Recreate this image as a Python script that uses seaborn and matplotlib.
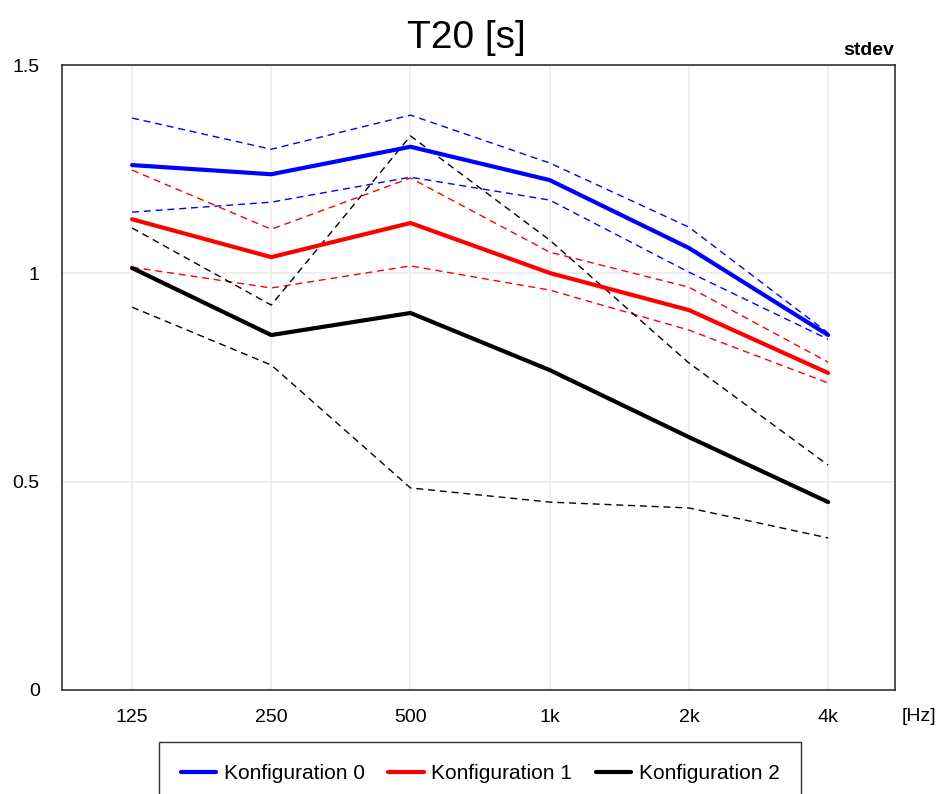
import numpy as np
import pandas as pd
import seaborn as sns
import matplotlib
matplotlib.use('Agg')
import matplotlib.pyplot as plt
from matplotlib.lines import Line2D

# Frequenzbaender
bands = ['125', '250', '500', '1k', '2k', '4k']

# Mittelwerte T20 [s]
k0_mean = [1.260, 1.238, 1.304, 1.224, 1.061, 0.852]
k1_mean = [1.130, 1.039, 1.121, 1.001, 0.912, 0.761]
k2_mean = [1.013, 0.852, 0.905, 0.768, 0.607, 0.451]

# stdev-Grenzen (oben / unten)
k0_upper = [1.373, 1.298, 1.380, 1.265, 1.111, 0.857]
k0_lower = [1.147, 1.171, 1.231, 1.176, 1.003, 0.842]
k1_upper = [1.248, 1.106, 1.229, 1.051, 0.967, 0.787]
k1_lower = [1.015, 0.965, 1.018, 0.960, 0.864, 0.737]
k2_upper = [1.109, 0.924, 1.330, 1.080, 0.785, 0.540]
k2_lower = [0.919, 0.780, 0.485, 0.451, 0.437, 0.365]

labels = ['Konfiguration 0', 'Konfiguration 1', 'Konfiguration 2']
colors = ['#0000ff', '#ff0000', '#000000']

sns.set_style("white")
plt.rcParams['font.family'] = ['Liberation Sans', 'DejaVu Sans']
plt.rcParams['text.color'] = 'black'
plt.rcParams['xtick.labelcolor'] = 'black'
plt.rcParams['ytick.labelcolor'] = 'black'

fig = plt.figure(figsize=(9.47, 7.94), dpi=100)
ax = fig.add_axes([0.0655, 0.131, 0.8795, 0.787])

pos = np.arange(len(bands))
series = [(k0_mean, k0_upper, k0_lower),
          (k1_mean, k1_upper, k1_lower),
          (k2_mean, k2_upper, k2_lower)]

# erst gestrichelte stdev-Linien, dann Mittelwerte darueber
for (m, up, lo), c in zip(series, colors):
    for b in (up, lo):
        sns.lineplot(x=pos, y=b, ax=ax, color=c, linewidth=1.0,
                     linestyle=(0, (5, 3.5)), legend=False)
for (m, up, lo), c in zip(series, colors):
    sns.lineplot(x=pos, y=m, ax=ax, color=c, linewidth=3.0, legend=False)

ax.set_xlim(-0.503, 5.48)
ax.set_ylim(0, 1.5)
ax.set_xticks(pos)
ax.set_xticklabels(bands)
ax.set_yticks([0, 0.5, 1, 1.5])
ax.set_yticklabels(['0', '0.5', '1', '1.5'])
ax.grid(True, color='#ebebeb', linewidth=1.2)
ax.set_axisbelow(True)
for s in ax.spines.values():
    s.set_color('#333333')
    s.set_linewidth(1.2)
ax.tick_params(axis='x', length=6, width=1.2, color='#333333', pad=8, labelsize=14)
ax.tick_params(axis='y', length=0, pad=16, labelsize=14)
ax.set_xlabel('')
ax.set_ylabel('')

fig.text(0.492, 0.952, 'T20 [s]', ha='center', va='center', fontsize=28)
fig.text(0.944, 0.936, 'stdev', ha='right', va='center', fontsize=14, fontweight='bold')
fig.text(0.970, 0.097, '[Hz]', ha='center', va='center', fontsize=14)

handles = [Line2D([0], [0], color=c, linewidth=3.0) for c in colors]
leg = fig.legend(handles, labels, loc='upper center', bbox_to_anchor=(0.507, 0.0655),
                 ncol=3, frameon=True, fancybox=False, fontsize=15,
                 handlelength=1.7, columnspacing=1.15, borderpad=1.05,
                 borderaxespad=0, handletextpad=0.35)
leg.get_frame().set_edgecolor('#000000')
leg.get_frame().set_linewidth(1.0)

fig.savefig('out.png', dpi=100)
